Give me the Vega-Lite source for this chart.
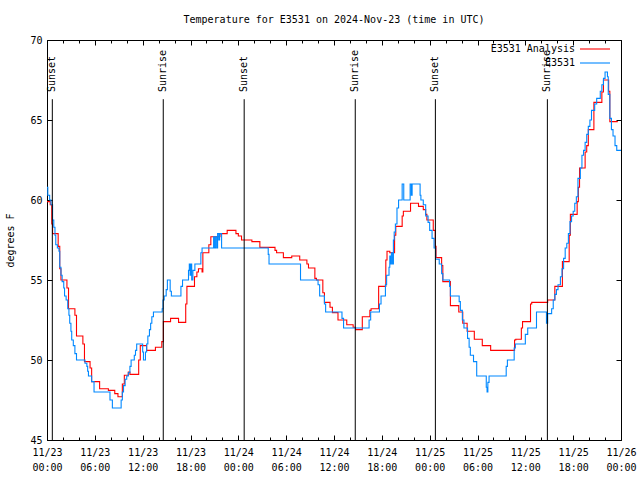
{
"$schema": "https://vega.github.io/schema/vega-lite/v6.json",
"width": 574, "height": 400,
"autosize": {"type": "none"},
"padding": {"left": 47, "top": 40, "right": 19, "bottom": 40},
"background": "white",
"config": {
 "view": {"stroke": "black", "strokeWidth": 1},
 "font": "DejaVu Sans Mono",
 "axis": {"labelFont": "DejaVu Sans Mono", "labelFontSize": 10, "titleFont": "DejaVu Sans Mono", "titleFontSize": 10, "titleFontWeight": "normal", "labelColor": "black", "titleColor": "black", "tickColor": "black", "domain": false, "grid": false},
 "legend": {"labelFont": "DejaVu Sans Mono", "labelFontSize": 10, "labelColor": "black"}
},
"title": {"text": "Temperature for E3531 on 2024-Nov-23 (time in UTC)", "font": "DejaVu Sans Mono", "fontSize": 10, "fontWeight": "normal", "offset": 10, "anchor": "middle", "color": "black"},
"datasets": {
 "sun": [
  {"time": "2024-11-23T00:40:00Z", "event": "Sunset"},
  {"time": "2024-11-23T14:35:00Z", "event": "Sunrise"},
  {"time": "2024-11-24T00:44:00Z", "event": "Sunset"},
  {"time": "2024-11-24T14:40:00Z", "event": "Sunrise"},
  {"time": "2024-11-25T00:43:00Z", "event": "Sunset"},
  {"time": "2024-11-25T14:46:00Z", "event": "Sunrise"}
 ],
 "temps": [
  {"time": "2024-11-23T00:00:00Z", "temp": 59.9, "series": "E3531 Analysis"},
  {"time": "2024-11-23T00:24:00Z", "temp": 59.7, "series": "E3531 Analysis"},
  {"time": "2024-11-23T00:36:00Z", "temp": 58.5, "series": "E3531 Analysis"},
  {"time": "2024-11-23T00:42:00Z", "temp": 57.9, "series": "E3531 Analysis"},
  {"time": "2024-11-23T01:24:00Z", "temp": 57.1, "series": "E3531 Analysis"},
  {"time": "2024-11-23T01:36:00Z", "temp": 55.7, "series": "E3531 Analysis"},
  {"time": "2024-11-23T01:45:00Z", "temp": 55.0, "series": "E3531 Analysis"},
  {"time": "2024-11-23T02:30:00Z", "temp": 54.5, "series": "E3531 Analysis"},
  {"time": "2024-11-23T02:42:00Z", "temp": 53.2, "series": "E3531 Analysis"},
  {"time": "2024-11-23T03:30:00Z", "temp": 52.8, "series": "E3531 Analysis"},
  {"time": "2024-11-23T03:42:00Z", "temp": 51.5, "series": "E3531 Analysis"},
  {"time": "2024-11-23T04:30:00Z", "temp": 51.0, "series": "E3531 Analysis"},
  {"time": "2024-11-23T04:42:00Z", "temp": 49.9, "series": "E3531 Analysis"},
  {"time": "2024-11-23T05:24:00Z", "temp": 49.5, "series": "E3531 Analysis"},
  {"time": "2024-11-23T05:36:00Z", "temp": 48.65, "series": "E3531 Analysis"},
  {"time": "2024-11-23T06:36:00Z", "temp": 48.2, "series": "E3531 Analysis"},
  {"time": "2024-11-23T07:42:00Z", "temp": 48.1, "series": "E3531 Analysis"},
  {"time": "2024-11-23T08:30:00Z", "temp": 47.9, "series": "E3531 Analysis"},
  {"time": "2024-11-23T08:54:00Z", "temp": 47.7, "series": "E3531 Analysis"},
  {"time": "2024-11-23T09:27:00Z", "temp": 48.5, "series": "E3531 Analysis"},
  {"time": "2024-11-23T09:42:00Z", "temp": 49.05, "series": "E3531 Analysis"},
  {"time": "2024-11-23T10:12:00Z", "temp": 49.25, "series": "E3531 Analysis"},
  {"time": "2024-11-23T10:24:00Z", "temp": 49.1, "series": "E3531 Analysis"},
  {"time": "2024-11-23T11:30:00Z", "temp": 50.0, "series": "E3531 Analysis"},
  {"time": "2024-11-23T11:42:00Z", "temp": 50.9, "series": "E3531 Analysis"},
  {"time": "2024-11-23T12:30:00Z", "temp": 50.6, "series": "E3531 Analysis"},
  {"time": "2024-11-23T13:36:00Z", "temp": 50.8, "series": "E3531 Analysis"},
  {"time": "2024-11-23T14:24:00Z", "temp": 51.15, "series": "E3531 Analysis"},
  {"time": "2024-11-23T14:36:00Z", "temp": 52.4, "series": "E3531 Analysis"},
  {"time": "2024-11-23T15:30:00Z", "temp": 52.6, "series": "E3531 Analysis"},
  {"time": "2024-11-23T16:30:00Z", "temp": 52.35, "series": "E3531 Analysis"},
  {"time": "2024-11-23T17:24:00Z", "temp": 53.5, "series": "E3531 Analysis"},
  {"time": "2024-11-23T17:33:00Z", "temp": 54.6, "series": "E3531 Analysis"},
  {"time": "2024-11-23T18:30:00Z", "temp": 55.2, "series": "E3531 Analysis"},
  {"time": "2024-11-23T18:48:00Z", "temp": 55.5, "series": "E3531 Analysis"},
  {"time": "2024-11-23T19:00:00Z", "temp": 55.7, "series": "E3531 Analysis"},
  {"time": "2024-11-23T19:27:00Z", "temp": 55.5, "series": "E3531 Analysis"},
  {"time": "2024-11-23T19:33:00Z", "temp": 56.7, "series": "E3531 Analysis"},
  {"time": "2024-11-23T20:18:00Z", "temp": 57.2, "series": "E3531 Analysis"},
  {"time": "2024-11-23T20:33:00Z", "temp": 57.7, "series": "E3531 Analysis"},
  {"time": "2024-11-23T21:42:00Z", "temp": 57.9, "series": "E3531 Analysis"},
  {"time": "2024-11-23T22:36:00Z", "temp": 58.1, "series": "E3531 Analysis"},
  {"time": "2024-11-23T23:42:00Z", "temp": 57.9, "series": "E3531 Analysis"},
  {"time": "2024-11-24T00:00:00Z", "temp": 57.75, "series": "E3531 Analysis"},
  {"time": "2024-11-24T00:24:00Z", "temp": 57.5, "series": "E3531 Analysis"},
  {"time": "2024-11-24T01:42:00Z", "temp": 57.4, "series": "E3531 Analysis"},
  {"time": "2024-11-24T02:42:00Z", "temp": 57.04, "series": "E3531 Analysis"},
  {"time": "2024-11-24T04:36:00Z", "temp": 56.85, "series": "E3531 Analysis"},
  {"time": "2024-11-24T04:48:00Z", "temp": 56.7, "series": "E3531 Analysis"},
  {"time": "2024-11-24T05:39:00Z", "temp": 56.4, "series": "E3531 Analysis"},
  {"time": "2024-11-24T06:42:00Z", "temp": 56.5, "series": "E3531 Analysis"},
  {"time": "2024-11-24T07:42:00Z", "temp": 56.25, "series": "E3531 Analysis"},
  {"time": "2024-11-24T08:36:00Z", "temp": 56.0, "series": "E3531 Analysis"},
  {"time": "2024-11-24T08:48:00Z", "temp": 55.75, "series": "E3531 Analysis"},
  {"time": "2024-11-24T09:36:00Z", "temp": 55.1, "series": "E3531 Analysis"},
  {"time": "2024-11-24T09:48:00Z", "temp": 55.0, "series": "E3531 Analysis"},
  {"time": "2024-11-24T10:36:00Z", "temp": 54.2, "series": "E3531 Analysis"},
  {"time": "2024-11-24T10:48:00Z", "temp": 53.6, "series": "E3531 Analysis"},
  {"time": "2024-11-24T11:30:00Z", "temp": 53.3, "series": "E3531 Analysis"},
  {"time": "2024-11-24T11:48:00Z", "temp": 52.96, "series": "E3531 Analysis"},
  {"time": "2024-11-24T12:30:00Z", "temp": 52.5, "series": "E3531 Analysis"},
  {"time": "2024-11-24T13:36:00Z", "temp": 52.2, "series": "E3531 Analysis"},
  {"time": "2024-11-24T14:24:00Z", "temp": 52.05, "series": "E3531 Analysis"},
  {"time": "2024-11-24T14:42:00Z", "temp": 51.9, "series": "E3531 Analysis"},
  {"time": "2024-11-24T15:33:00Z", "temp": 52.7, "series": "E3531 Analysis"},
  {"time": "2024-11-24T16:30:00Z", "temp": 53.1, "series": "E3531 Analysis"},
  {"time": "2024-11-24T16:39:00Z", "temp": 53.2, "series": "E3531 Analysis"},
  {"time": "2024-11-24T17:36:00Z", "temp": 54.6, "series": "E3531 Analysis"},
  {"time": "2024-11-24T18:30:00Z", "temp": 56.25, "series": "E3531 Analysis"},
  {"time": "2024-11-24T18:39:00Z", "temp": 56.8, "series": "E3531 Analysis"},
  {"time": "2024-11-24T19:00:00Z", "temp": 56.7, "series": "E3531 Analysis"},
  {"time": "2024-11-24T19:36:00Z", "temp": 57.8, "series": "E3531 Analysis"},
  {"time": "2024-11-24T19:45:00Z", "temp": 58.35, "series": "E3531 Analysis"},
  {"time": "2024-11-24T20:33:00Z", "temp": 59.0, "series": "E3531 Analysis"},
  {"time": "2024-11-24T20:42:00Z", "temp": 59.3, "series": "E3531 Analysis"},
  {"time": "2024-11-24T21:36:00Z", "temp": 59.8, "series": "E3531 Analysis"},
  {"time": "2024-11-24T22:36:00Z", "temp": 59.6, "series": "E3531 Analysis"},
  {"time": "2024-11-24T23:12:00Z", "temp": 59.4, "series": "E3531 Analysis"},
  {"time": "2024-11-24T23:30:00Z", "temp": 59.1, "series": "E3531 Analysis"},
  {"time": "2024-11-24T23:39:00Z", "temp": 58.75, "series": "E3531 Analysis"},
  {"time": "2024-11-25T00:27:00Z", "temp": 58.1, "series": "E3531 Analysis"},
  {"time": "2024-11-25T00:42:00Z", "temp": 57.1, "series": "E3531 Analysis"},
  {"time": "2024-11-25T00:48:00Z", "temp": 56.4, "series": "E3531 Analysis"},
  {"time": "2024-11-25T01:30:00Z", "temp": 55.9, "series": "E3531 Analysis"},
  {"time": "2024-11-25T01:39:00Z", "temp": 54.9, "series": "E3531 Analysis"},
  {"time": "2024-11-25T02:36:00Z", "temp": 53.4, "series": "E3531 Analysis"},
  {"time": "2024-11-25T03:39:00Z", "temp": 53.0, "series": "E3531 Analysis"},
  {"time": "2024-11-25T04:09:00Z", "temp": 52.3, "series": "E3531 Analysis"},
  {"time": "2024-11-25T04:42:00Z", "temp": 51.8, "series": "E3531 Analysis"},
  {"time": "2024-11-25T05:36:00Z", "temp": 51.3, "series": "E3531 Analysis"},
  {"time": "2024-11-25T06:36:00Z", "temp": 50.9, "series": "E3531 Analysis"},
  {"time": "2024-11-25T07:39:00Z", "temp": 50.6, "series": "E3531 Analysis"},
  {"time": "2024-11-25T10:39:00Z", "temp": 51.25, "series": "E3531 Analysis"},
  {"time": "2024-11-25T10:48:00Z", "temp": 51.3, "series": "E3531 Analysis"},
  {"time": "2024-11-25T11:30:00Z", "temp": 52.0, "series": "E3531 Analysis"},
  {"time": "2024-11-25T11:39:00Z", "temp": 52.4, "series": "E3531 Analysis"},
  {"time": "2024-11-25T12:39:00Z", "temp": 53.5, "series": "E3531 Analysis"},
  {"time": "2024-11-25T12:48:00Z", "temp": 53.6, "series": "E3531 Analysis"},
  {"time": "2024-11-25T14:48:00Z", "temp": 53.75, "series": "E3531 Analysis"},
  {"time": "2024-11-25T15:42:00Z", "temp": 54.6, "series": "E3531 Analysis"},
  {"time": "2024-11-25T16:39:00Z", "temp": 56.15, "series": "E3531 Analysis"},
  {"time": "2024-11-25T17:30:00Z", "temp": 57.8, "series": "E3531 Analysis"},
  {"time": "2024-11-25T17:39:00Z", "temp": 59.1, "series": "E3531 Analysis"},
  {"time": "2024-11-25T18:30:00Z", "temp": 59.9, "series": "E3531 Analysis"},
  {"time": "2024-11-25T18:39:00Z", "temp": 60.8, "series": "E3531 Analysis"},
  {"time": "2024-11-25T18:48:00Z", "temp": 62.0, "series": "E3531 Analysis"},
  {"time": "2024-11-25T19:30:00Z", "temp": 63.0, "series": "E3531 Analysis"},
  {"time": "2024-11-25T19:42:00Z", "temp": 63.4, "series": "E3531 Analysis"},
  {"time": "2024-11-25T19:54:00Z", "temp": 64.4, "series": "E3531 Analysis"},
  {"time": "2024-11-25T20:36:00Z", "temp": 66.1, "series": "E3531 Analysis"},
  {"time": "2024-11-25T21:36:00Z", "temp": 66.75, "series": "E3531 Analysis"},
  {"time": "2024-11-25T21:48:00Z", "temp": 67.5, "series": "E3531 Analysis"},
  {"time": "2024-11-25T22:27:00Z", "temp": 66.8, "series": "E3531 Analysis"},
  {"time": "2024-11-25T22:36:00Z", "temp": 64.9, "series": "E3531 Analysis"},
  {"time": "2024-11-25T23:36:00Z", "temp": 64.9, "series": "E3531 Analysis"},
  {"time": "2024-11-23T00:00:00Z", "temp": 60.8, "series": "E3531"},
  {"time": "2024-11-23T00:06:00Z", "temp": 60.3, "series": "E3531"},
  {"time": "2024-11-23T00:20:00Z", "temp": 60.0, "series": "E3531"},
  {"time": "2024-11-23T00:30:00Z", "temp": 59.7, "series": "E3531"},
  {"time": "2024-11-23T00:42:00Z", "temp": 58.75, "series": "E3531"},
  {"time": "2024-11-23T00:51:00Z", "temp": 58.3, "series": "E3531"},
  {"time": "2024-11-23T01:00:00Z", "temp": 57.8, "series": "E3531"},
  {"time": "2024-11-23T01:06:00Z", "temp": 57.2, "series": "E3531"},
  {"time": "2024-11-23T01:18:00Z", "temp": 57.0, "series": "E3531"},
  {"time": "2024-11-23T01:30:00Z", "temp": 56.8, "series": "E3531"},
  {"time": "2024-11-23T01:36:00Z", "temp": 55.8, "series": "E3531"},
  {"time": "2024-11-23T01:45:00Z", "temp": 55.3, "series": "E3531"},
  {"time": "2024-11-23T01:54:00Z", "temp": 54.9, "series": "E3531"},
  {"time": "2024-11-23T02:06:00Z", "temp": 54.5, "series": "E3531"},
  {"time": "2024-11-23T02:12:00Z", "temp": 54.0, "series": "E3531"},
  {"time": "2024-11-23T02:24:00Z", "temp": 53.75, "series": "E3531"},
  {"time": "2024-11-23T02:36:00Z", "temp": 53.2, "series": "E3531"},
  {"time": "2024-11-23T02:45:00Z", "temp": 52.8, "series": "E3531"},
  {"time": "2024-11-23T02:51:00Z", "temp": 52.3, "series": "E3531"},
  {"time": "2024-11-23T03:00:00Z", "temp": 51.8, "series": "E3531"},
  {"time": "2024-11-23T03:06:00Z", "temp": 51.25, "series": "E3531"},
  {"time": "2024-11-23T03:18:00Z", "temp": 50.9, "series": "E3531"},
  {"time": "2024-11-23T03:30:00Z", "temp": 50.4, "series": "E3531"},
  {"time": "2024-11-23T03:42:00Z", "temp": 50.0, "series": "E3531"},
  {"time": "2024-11-23T04:46:00Z", "temp": 49.8, "series": "E3531"},
  {"time": "2024-11-23T05:00:00Z", "temp": 49.6, "series": "E3531"},
  {"time": "2024-11-23T05:06:00Z", "temp": 49.3, "series": "E3531"},
  {"time": "2024-11-23T05:12:00Z", "temp": 49.0, "series": "E3531"},
  {"time": "2024-11-23T05:36:00Z", "temp": 48.65, "series": "E3531"},
  {"time": "2024-11-23T05:54:00Z", "temp": 48.0, "series": "E3531"},
  {"time": "2024-11-23T07:54:00Z", "temp": 47.5, "series": "E3531"},
  {"time": "2024-11-23T08:12:00Z", "temp": 47.0, "series": "E3531"},
  {"time": "2024-11-23T09:18:00Z", "temp": 47.5, "series": "E3531"},
  {"time": "2024-11-23T09:27:00Z", "temp": 48.0, "series": "E3531"},
  {"time": "2024-11-23T09:36:00Z", "temp": 48.4, "series": "E3531"},
  {"time": "2024-11-23T09:48:00Z", "temp": 48.8, "series": "E3531"},
  {"time": "2024-11-23T10:00:00Z", "temp": 49.0, "series": "E3531"},
  {"time": "2024-11-23T10:12:00Z", "temp": 49.2, "series": "E3531"},
  {"time": "2024-11-23T10:24:00Z", "temp": 49.6, "series": "E3531"},
  {"time": "2024-11-23T10:33:00Z", "temp": 50.0, "series": "E3531"},
  {"time": "2024-11-23T10:57:00Z", "temp": 50.3, "series": "E3531"},
  {"time": "2024-11-23T11:06:00Z", "temp": 50.6, "series": "E3531"},
  {"time": "2024-11-23T11:15:00Z", "temp": 51.0, "series": "E3531"},
  {"time": "2024-11-23T12:00:00Z", "temp": 50.5, "series": "E3531"},
  {"time": "2024-11-23T12:06:00Z", "temp": 50.0, "series": "E3531"},
  {"time": "2024-11-23T12:21:00Z", "temp": 50.5, "series": "E3531"},
  {"time": "2024-11-23T12:30:00Z", "temp": 51.0, "series": "E3531"},
  {"time": "2024-11-23T12:39:00Z", "temp": 51.5, "series": "E3531"},
  {"time": "2024-11-23T12:51:00Z", "temp": 51.9, "series": "E3531"},
  {"time": "2024-11-23T13:00:00Z", "temp": 52.3, "series": "E3531"},
  {"time": "2024-11-23T13:09:00Z", "temp": 52.7, "series": "E3531"},
  {"time": "2024-11-23T13:21:00Z", "temp": 53.0, "series": "E3531"},
  {"time": "2024-11-23T14:27:00Z", "temp": 53.2, "series": "E3531"},
  {"time": "2024-11-23T14:33:00Z", "temp": 53.75, "series": "E3531"},
  {"time": "2024-11-23T14:42:00Z", "temp": 54.0, "series": "E3531"},
  {"time": "2024-11-23T14:57:00Z", "temp": 54.4, "series": "E3531"},
  {"time": "2024-11-23T15:06:00Z", "temp": 55.0, "series": "E3531"},
  {"time": "2024-11-23T15:27:00Z", "temp": 54.3, "series": "E3531"},
  {"time": "2024-11-23T15:36:00Z", "temp": 54.0, "series": "E3531"},
  {"time": "2024-11-23T16:48:00Z", "temp": 54.6, "series": "E3531"},
  {"time": "2024-11-23T17:00:00Z", "temp": 55.0, "series": "E3531"},
  {"time": "2024-11-23T17:45:00Z", "temp": 55.6, "series": "E3531"},
  {"time": "2024-11-23T17:51:00Z", "temp": 56.0, "series": "E3531"},
  {"time": "2024-11-23T17:57:00Z", "temp": 55.3, "series": "E3531"},
  {"time": "2024-11-23T18:03:00Z", "temp": 56.0, "series": "E3531"},
  {"time": "2024-11-23T18:09:00Z", "temp": 55.0, "series": "E3531"},
  {"time": "2024-11-23T18:18:00Z", "temp": 55.6, "series": "E3531"},
  {"time": "2024-11-23T18:33:00Z", "temp": 56.0, "series": "E3531"},
  {"time": "2024-11-23T19:18:00Z", "temp": 56.7, "series": "E3531"},
  {"time": "2024-11-23T19:27:00Z", "temp": 57.0, "series": "E3531"},
  {"time": "2024-11-23T20:54:00Z", "temp": 57.7, "series": "E3531"},
  {"time": "2024-11-23T21:00:00Z", "temp": 57.0, "series": "E3531"},
  {"time": "2024-11-23T21:09:00Z", "temp": 57.7, "series": "E3531"},
  {"time": "2024-11-23T21:18:00Z", "temp": 57.0, "series": "E3531"},
  {"time": "2024-11-23T21:24:00Z", "temp": 57.9, "series": "E3531"},
  {"time": "2024-11-23T21:33:00Z", "temp": 57.5, "series": "E3531"},
  {"time": "2024-11-23T21:39:00Z", "temp": 57.9, "series": "E3531"},
  {"time": "2024-11-23T21:54:00Z", "temp": 57.0, "series": "E3531"},
  {"time": "2024-11-24T03:45:00Z", "temp": 56.6, "series": "E3531"},
  {"time": "2024-11-24T03:51:00Z", "temp": 56.0, "series": "E3531"},
  {"time": "2024-11-24T07:48:00Z", "temp": 55.0, "series": "E3531"},
  {"time": "2024-11-24T10:00:00Z", "temp": 54.7, "series": "E3531"},
  {"time": "2024-11-24T10:12:00Z", "temp": 54.0, "series": "E3531"},
  {"time": "2024-11-24T10:48:00Z", "temp": 53.5, "series": "E3531"},
  {"time": "2024-11-24T10:57:00Z", "temp": 53.0, "series": "E3531"},
  {"time": "2024-11-24T13:00:00Z", "temp": 52.6, "series": "E3531"},
  {"time": "2024-11-24T13:12:00Z", "temp": 52.0, "series": "E3531"},
  {"time": "2024-11-24T16:24:00Z", "temp": 52.5, "series": "E3531"},
  {"time": "2024-11-24T16:36:00Z", "temp": 53.0, "series": "E3531"},
  {"time": "2024-11-24T17:42:00Z", "temp": 53.5, "series": "E3531"},
  {"time": "2024-11-24T17:54:00Z", "temp": 54.0, "series": "E3531"},
  {"time": "2024-11-24T18:27:00Z", "temp": 54.7, "series": "E3531"},
  {"time": "2024-11-24T18:36:00Z", "temp": 55.3, "series": "E3531"},
  {"time": "2024-11-24T18:54:00Z", "temp": 55.8, "series": "E3531"},
  {"time": "2024-11-24T19:00:00Z", "temp": 56.5, "series": "E3531"},
  {"time": "2024-11-24T19:06:00Z", "temp": 56.0, "series": "E3531"},
  {"time": "2024-11-24T19:12:00Z", "temp": 56.7, "series": "E3531"},
  {"time": "2024-11-24T19:21:00Z", "temp": 56.0, "series": "E3531"},
  {"time": "2024-11-24T19:27:00Z", "temp": 57.5, "series": "E3531"},
  {"time": "2024-11-24T19:33:00Z", "temp": 58.0, "series": "E3531"},
  {"time": "2024-11-24T19:42:00Z", "temp": 58.5, "series": "E3531"},
  {"time": "2024-11-24T19:54:00Z", "temp": 59.5, "series": "E3531"},
  {"time": "2024-11-24T20:06:00Z", "temp": 60.0, "series": "E3531"},
  {"time": "2024-11-24T20:33:00Z", "temp": 61.0, "series": "E3531"},
  {"time": "2024-11-24T20:45:00Z", "temp": 60.0, "series": "E3531"},
  {"time": "2024-11-24T21:33:00Z", "temp": 61.0, "series": "E3531"},
  {"time": "2024-11-24T21:42:00Z", "temp": 60.3, "series": "E3531"},
  {"time": "2024-11-24T21:48:00Z", "temp": 61.0, "series": "E3531"},
  {"time": "2024-11-24T22:48:00Z", "temp": 60.3, "series": "E3531"},
  {"time": "2024-11-24T22:54:00Z", "temp": 60.0, "series": "E3531"},
  {"time": "2024-11-24T23:12:00Z", "temp": 59.7, "series": "E3531"},
  {"time": "2024-11-24T23:30:00Z", "temp": 59.0, "series": "E3531"},
  {"time": "2024-11-24T23:48:00Z", "temp": 58.6, "series": "E3531"},
  {"time": "2024-11-25T00:00:00Z", "temp": 58.1, "series": "E3531"},
  {"time": "2024-11-25T00:18:00Z", "temp": 57.6, "series": "E3531"},
  {"time": "2024-11-25T00:33:00Z", "temp": 57.0, "series": "E3531"},
  {"time": "2024-11-25T00:45:00Z", "temp": 56.3, "series": "E3531"},
  {"time": "2024-11-25T01:12:00Z", "temp": 56.0, "series": "E3531"},
  {"time": "2024-11-25T01:30:00Z", "temp": 55.4, "series": "E3531"},
  {"time": "2024-11-25T01:39:00Z", "temp": 55.0, "series": "E3531"},
  {"time": "2024-11-25T02:30:00Z", "temp": 54.6, "series": "E3531"},
  {"time": "2024-11-25T02:36:00Z", "temp": 54.0, "series": "E3531"},
  {"time": "2024-11-25T03:42:00Z", "temp": 53.65, "series": "E3531"},
  {"time": "2024-11-25T03:51:00Z", "temp": 53.1, "series": "E3531"},
  {"time": "2024-11-25T04:06:00Z", "temp": 52.5, "series": "E3531"},
  {"time": "2024-11-25T04:18:00Z", "temp": 52.0, "series": "E3531"},
  {"time": "2024-11-25T04:45:00Z", "temp": 51.35, "series": "E3531"},
  {"time": "2024-11-25T04:57:00Z", "temp": 50.8, "series": "E3531"},
  {"time": "2024-11-25T05:06:00Z", "temp": 50.3, "series": "E3531"},
  {"time": "2024-11-25T05:30:00Z", "temp": 49.9, "series": "E3531"},
  {"time": "2024-11-25T05:54:00Z", "temp": 49.0, "series": "E3531"},
  {"time": "2024-11-25T07:06:00Z", "temp": 48.3, "series": "E3531"},
  {"time": "2024-11-25T07:12:00Z", "temp": 48.0, "series": "E3531"},
  {"time": "2024-11-25T07:18:00Z", "temp": 48.6, "series": "E3531"},
  {"time": "2024-11-25T07:27:00Z", "temp": 49.0, "series": "E3531"},
  {"time": "2024-11-25T09:36:00Z", "temp": 49.6, "series": "E3531"},
  {"time": "2024-11-25T09:45:00Z", "temp": 50.0, "series": "E3531"},
  {"time": "2024-11-25T10:36:00Z", "temp": 50.75, "series": "E3531"},
  {"time": "2024-11-25T10:45:00Z", "temp": 51.0, "series": "E3531"},
  {"time": "2024-11-25T12:00:00Z", "temp": 51.6, "series": "E3531"},
  {"time": "2024-11-25T12:18:00Z", "temp": 52.0, "series": "E3531"},
  {"time": "2024-11-25T13:24:00Z", "temp": 53.0, "series": "E3531"},
  {"time": "2024-11-25T14:39:00Z", "temp": 52.3, "series": "E3531"},
  {"time": "2024-11-25T14:48:00Z", "temp": 52.9, "series": "E3531"},
  {"time": "2024-11-25T15:18:00Z", "temp": 53.2, "series": "E3531"},
  {"time": "2024-11-25T15:30:00Z", "temp": 53.75, "series": "E3531"},
  {"time": "2024-11-25T15:42:00Z", "temp": 54.1, "series": "E3531"},
  {"time": "2024-11-25T15:54:00Z", "temp": 54.4, "series": "E3531"},
  {"time": "2024-11-25T16:06:00Z", "temp": 54.7, "series": "E3531"},
  {"time": "2024-11-25T16:24:00Z", "temp": 55.2, "series": "E3531"},
  {"time": "2024-11-25T16:36:00Z", "temp": 55.7, "series": "E3531"},
  {"time": "2024-11-25T16:48:00Z", "temp": 56.35, "series": "E3531"},
  {"time": "2024-11-25T17:00:00Z", "temp": 57.0, "series": "E3531"},
  {"time": "2024-11-25T17:12:00Z", "temp": 57.3, "series": "E3531"},
  {"time": "2024-11-25T17:24:00Z", "temp": 57.9, "series": "E3531"},
  {"time": "2024-11-25T17:36:00Z", "temp": 58.65, "series": "E3531"},
  {"time": "2024-11-25T17:48:00Z", "temp": 59.0, "series": "E3531"},
  {"time": "2024-11-25T18:00:00Z", "temp": 59.3, "series": "E3531"},
  {"time": "2024-11-25T18:12:00Z", "temp": 59.8, "series": "E3531"},
  {"time": "2024-11-25T18:24:00Z", "temp": 60.2, "series": "E3531"},
  {"time": "2024-11-25T18:36:00Z", "temp": 61.35, "series": "E3531"},
  {"time": "2024-11-25T18:54:00Z", "temp": 62.0, "series": "E3531"},
  {"time": "2024-11-25T19:06:00Z", "temp": 62.8, "series": "E3531"},
  {"time": "2024-11-25T19:18:00Z", "temp": 63.1, "series": "E3531"},
  {"time": "2024-11-25T19:30:00Z", "temp": 63.6, "series": "E3531"},
  {"time": "2024-11-25T19:42:00Z", "temp": 64.1, "series": "E3531"},
  {"time": "2024-11-25T19:54:00Z", "temp": 64.6, "series": "E3531"},
  {"time": "2024-11-25T20:06:00Z", "temp": 65.0, "series": "E3531"},
  {"time": "2024-11-25T20:18:00Z", "temp": 65.6, "series": "E3531"},
  {"time": "2024-11-25T20:42:00Z", "temp": 66.0, "series": "E3531"},
  {"time": "2024-11-25T20:57:00Z", "temp": 66.35, "series": "E3531"},
  {"time": "2024-11-25T21:24:00Z", "temp": 66.8, "series": "E3531"},
  {"time": "2024-11-25T21:36:00Z", "temp": 67.2, "series": "E3531"},
  {"time": "2024-11-25T21:48:00Z", "temp": 67.6, "series": "E3531"},
  {"time": "2024-11-25T22:00:00Z", "temp": 68.0, "series": "E3531"},
  {"time": "2024-11-25T22:18:00Z", "temp": 67.7, "series": "E3531"},
  {"time": "2024-11-25T22:24:00Z", "temp": 66.6, "series": "E3531"},
  {"time": "2024-11-25T22:36:00Z", "temp": 65.1, "series": "E3531"},
  {"time": "2024-11-25T22:48:00Z", "temp": 64.4, "series": "E3531"},
  {"time": "2024-11-25T23:00:00Z", "temp": 64.0, "series": "E3531"},
  {"time": "2024-11-25T23:15:00Z", "temp": 63.4, "series": "E3531"},
  {"time": "2024-11-25T23:28:00Z", "temp": 63.1, "series": "E3531"},
  {"time": "2024-11-26T00:00:00Z", "temp": 63.1, "series": "E3531"}
 ]
},
"layer": [
 {
  "data": {"name": "temps"},
  "transform": [{"filter": "datum.series === 'E3531 Analysis'"}],
  "mark": {"type": "line", "interpolate": "step-after", "strokeWidth": 1.1},
  "encoding": {
   "x": {"field": "time", "type": "temporal",
    "scale": {"type": "utc", "domain": [1732320000000, 1732579200000]},
    "axis": {"orient": "bottom", "values": [1732320000000, 1732341600000, 1732363200000, 1732384800000, 1732406400000, 1732428000000, 1732449600000, 1732471200000, 1732492800000, 1732514400000, 1732536000000, 1732557600000, 1732579200000], "labelExpr": "[utcFormat(datum.value, '%m/%d'), utcFormat(datum.value, '%H:%M')]", "tickSize": -5, "labelPadding": 12, "labelFlush": false, "labelOverlap": false, "labelLineHeight": 15, "title": null}},
   "y": {"field": "temp", "type": "quantitative",
    "scale": {"domain": [45, 70], "nice": false, "zero": false},
    "axis": {"orient": "left", "values": [45, 50, 55, 60, 65, 70], "tickSize": -5, "labelPadding": 10, "title": "degrees F", "titlePadding": 14}},
   "color": {"field": "series", "type": "nominal",
    "scale": {"domain": ["E3531 Analysis", "E3531"], "range": ["#ff0000", "#0088ff"]},
    "legend": {"title": null, "orient": "none", "legendX": 528, "legendY": 3, "symbolType": "M-3,0L3,0", "symbolSize": 100, "symbolStrokeWidth": 1.1, "rowPadding": 3,
     "encode": {"labels": {"update": {"align": {"value": "right"}, "x": {"value": 0}}}, "symbols": {"update": {"x": {"value": 20}}}}}}
  }
 },
 {
  "data": {"name": "temps"},
  "transform": [{"filter": "datum.series === 'E3531'"}],
  "mark": {"type": "line", "interpolate": "step-after", "strokeWidth": 1.1},
  "encoding": {
   "x": {"field": "time", "type": "temporal",
    "axis": {"orient": "top", "values": [1732320000000, 1732341600000, 1732363200000, 1732384800000, 1732406400000, 1732428000000, 1732449600000, 1732471200000, 1732492800000, 1732514400000, 1732536000000, 1732557600000, 1732579200000], "labels": false, "tickSize": -5, "title": null}},
   "y": {"field": "temp", "type": "quantitative",
    "axis": {"orient": "right", "values": [45, 50, 55, 60, 65, 70], "labels": false, "tickSize": -5, "title": null}},
   "color": {"field": "series", "type": "nominal"}
  }
 },
 {
  "data": {"name": "sun"},
  "mark": {"type": "rule", "color": "black", "strokeWidth": 1},
  "encoding": {
   "x": {"field": "time", "type": "temporal",
    "axis": {"orient": "bottom", "values": [1732320000000, 1732327200000, 1732334400000, 1732341600000, 1732348800000, 1732356000000, 1732363200000, 1732370400000, 1732377600000, 1732384800000, 1732392000000, 1732399200000, 1732406400000, 1732413600000, 1732420800000, 1732428000000, 1732435200000, 1732442400000, 1732449600000, 1732456800000, 1732464000000, 1732471200000, 1732478400000, 1732485600000, 1732492800000, 1732500000000, 1732507200000, 1732514400000, 1732521600000, 1732528800000, 1732536000000, 1732543200000, 1732550400000, 1732557600000, 1732564800000, 1732572000000, 1732579200000], "labels": false, "tickSize": -3, "title": null}},
   "y": {"datum": 66.3, "type": "quantitative", "axis": null},
   "y2": {"datum": 45}
  }
 },
 {
  "data": {"name": "sun"},
  "mark": {"type": "text", "angle": 270, "align": "left", "baseline": "middle", "font": "DejaVu Sans Mono", "fontSize": 10, "color": "black"},
  "encoding": {
   "x": {"field": "time", "type": "temporal",
    "axis": {"orient": "top", "values": [1732320000000, 1732327200000, 1732334400000, 1732341600000, 1732348800000, 1732356000000, 1732363200000, 1732370400000, 1732377600000, 1732384800000, 1732392000000, 1732399200000, 1732406400000, 1732413600000, 1732420800000, 1732428000000, 1732435200000, 1732442400000, 1732449600000, 1732456800000, 1732464000000, 1732471200000, 1732478400000, 1732485600000, 1732492800000, 1732500000000, 1732507200000, 1732514400000, 1732521600000, 1732528800000, 1732536000000, 1732543200000, 1732550400000, 1732557600000, 1732564800000, 1732572000000, 1732579200000], "labels": false, "tickSize": -3, "title": null}},
   "y": {"datum": 66.75, "type": "quantitative", "axis": null},
   "text": {"field": "event"}
  }
 }
],
"resolve": {"axis": {"x": "independent", "y": "independent"}}
}
